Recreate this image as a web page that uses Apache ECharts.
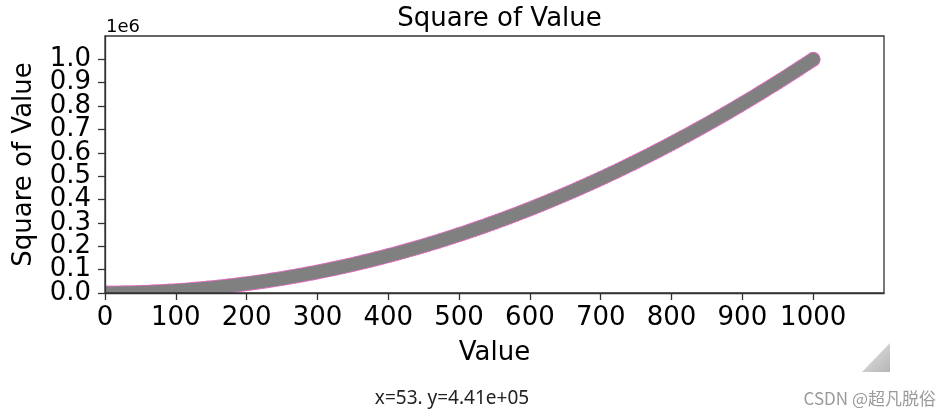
<!DOCTYPE html>
<html>
<head>
<meta charset="utf-8">
<script src="https://cdn.jsdelivr.net/npm/echarts@6/dist/echarts.min.js"></script>
<style>
html,body{margin:0;padding:0;background:#fff;}
#chart{width:952px;height:416px;}
</style>
</head>
<body>
<div id="chart"></div>
<script>
// ---- data ----
var xValues = [1,5,10,15,20,25,30,35,40,45,50,55,60,65,70,75,80,85,90,95,100,
105,110,115,120,125,130,135,140,145,150,155,160,165,170,175,180,185,190,195,200,
205,210,215,220,225,230,235,240,245,250,255,260,265,270,275,280,285,290,295,300,
305,310,315,320,325,330,335,340,345,350,355,360,365,370,375,380,385,390,395,400,
405,410,415,420,425,430,435,440,445,450,455,460,465,470,475,480,485,490,495,500,
505,510,515,520,525,530,535,540,545,550,555,560,565,570,575,580,585,590,595,600,
605,610,615,620,625,630,635,640,645,650,655,660,665,670,675,680,685,690,695,700,
705,710,715,720,725,730,735,740,745,750,755,760,765,770,775,780,785,790,795,800,
805,810,815,820,825,830,835,840,845,850,855,860,865,870,875,880,885,890,895,900,
905,910,915,920,925,930,935,940,945,950,955,960,965,970,975,980,985,990,995,1000];
var yValues = [1,25,100,225,400,625,900,1225,1600,2025,2500,3025,3600,4225,4900,5625,6400,7225,8100,9025,10000,
11025,12100,13225,14400,15625,16900,18225,19600,21025,22500,24025,25600,27225,28900,30625,32400,34225,36100,38025,40000,
42025,44100,46225,48400,50625,52900,55225,57600,60025,62500,65025,67600,70225,72900,75625,78400,81225,84100,87025,90000,
93025,96100,99225,102400,105625,108900,112225,115600,119025,122500,126025,129600,133225,136900,140625,144400,148225,152100,156025,160000,
164025,168100,172225,176400,180625,184900,189225,193600,198025,202500,207025,211600,216225,220900,225625,230400,235225,240100,245025,250000,
255025,260100,265225,270400,275625,280900,286225,291600,297025,302500,308025,313600,319225,324900,330625,336400,342225,348100,354025,360000,
366025,372100,378225,384400,390625,396900,403225,409600,416025,422500,429025,435600,442225,448900,455625,462400,469225,476100,483025,490000,
497025,504100,511225,518400,525625,532900,540225,547600,555025,562500,570025,577600,585225,592900,600625,608400,616225,624100,632025,640000,
648025,656100,664225,672400,680625,688900,697225,705600,714025,722500,731025,739600,748225,756900,765625,774400,783225,792100,801025,810000,
819025,828100,837225,846400,855625,864900,874225,883600,893025,902500,912025,921600,931225,940900,950625,960400,970225,980100,990025,1000000];
var xTicks = [0,100,200,300,400,500,600,700,800,900,1000];
var yTicks = [0,100000,200000,300000,400000,500000,600000,700000,800000,900000,1000000];
var xRange = [0, 1100];
var yRange = [0, 1100000];
var titleText = 'Square of Value';
var xName = 'Value';
var yName = 'Square of Value';
var offsetText = '1e6';
var statusText = 'x=53. y=4.41e+05';
var watermark = 'CSDN @超凡脱俗';

// ---- chart ----
var chart = echarts.init(document.getElementById('chart'), null, {renderer: 'canvas'});
var FONT = 'DejaVu Sans';
var AX = '#333333';
var pts = xValues.map(function (x, i) { return [x, yValues[i]]; });
var GL = 105, GR = 884, GT = 36, GB = 293;
// the y tick labels are tightly packed; split them over two overlaid axes so none get auto-hidden
var yTicksA = yTicks.filter(function (v, i) { return i % 2 === 0; });
var yTicksB = yTicks.filter(function (v, i) { return i % 2 === 1; });

function yLabel(values) {
  return {customValues: values, margin: 14, fontFamily: FONT, fontSize: 26, color: '#000',
    showMinLabel: true, showMaxLabel: true, hideOverlap: false,
    formatter: function (v) { return (v / 1e6).toFixed(1); }};
}

chart.setOption({
  animation: false,
  backgroundColor: '#ffffff',
  title: {
    text: titleText, left: (GL + GR) / 2, textAlign: 'center', top: 1, z: 10,
    textStyle: {fontFamily: FONT, fontSize: 26, fontWeight: 'normal', color: '#000'}
  },
  grid: {left: GL, right: 952 - GR, top: GT, bottom: 416 - GB, show: false},
  xAxis: {
    type: 'value', min: xRange[0], max: xRange[1], z: 5,
    name: xName, nameLocation: 'middle', nameGap: 47,
    nameTextStyle: {fontFamily: FONT, fontSize: 26, color: '#000'},
    axisLine: {show: true, lineStyle: {color: AX, width: 1.3}},
    axisTick: {show: true, length: 7, customValues: xTicks, lineStyle: {color: AX, width: 1.3}},
    axisLabel: {customValues: xTicks, margin: 12, fontFamily: FONT, fontSize: 26, color: '#000',
      showMinLabel: true, showMaxLabel: true, hideOverlap: false,
      formatter: function (v) { return String(v); }},
    splitLine: {show: false}
  },
  yAxis: [{
    type: 'value', min: yRange[0], max: yRange[1], z: 5, position: 'left',
    name: yName, nameLocation: 'middle', nameGap: 68, nameRotate: 90,
    nameTextStyle: {fontFamily: FONT, fontSize: 26, color: '#000'},
    axisLine: {show: true, lineStyle: {color: AX, width: 1.3}},
    axisTick: {show: true, length: 7, customValues: yTicks, lineStyle: {color: AX, width: 1.3}},
    axisLabel: yLabel(yTicksA),
    splitLine: {show: false}
  }, {
    type: 'value', min: yRange[0], max: yRange[1], z: 5, position: 'left', offset: 0,
    axisLine: {show: false}, axisTick: {show: false},
    axisLabel: yLabel(yTicksB),
    splitLine: {show: false}
  }],
  series: [{
    type: 'scatter', z: 1, yAxisIndex: 0,
    data: pts, symbol: 'circle', symbolSize: 15,
    itemStyle: {color: '#e070c0', borderWidth: 0, opacity: 1},
    emphasis: {disabled: true}, silent: true
  }, {
    type: 'scatter', z: 2, yAxisIndex: 0,
    data: pts, symbol: 'circle', symbolSize: 13.2,
    itemStyle: {color: '#808080', borderWidth: 0, opacity: 1},
    emphasis: {disabled: true}, silent: true
  }],
  graphic: [
    // mask outside the plotting area (markers are clipped at the axes in the reference)
    {type: 'rect', z: 3, shape: {x: 0, y: 0, width: GL, height: 416}, style: {fill: '#fff'}},
    {type: 'rect', z: 3, shape: {x: 0, y: GB, width: 952, height: 416 - GB}, style: {fill: '#fff'}},
    // frame (top/right spines)
    {type: 'rect', z: 6, shape: {x: GL, y: GT, width: GR - GL, height: GB - GT},
      style: {fill: 'none', stroke: AX, lineWidth: 1.3}},
    {type: 'text', z: 10, left: 106, top: 18, style: {text: offsetText, fontFamily: FONT, fontSize: 18, fill: '#000'}},
    {type: 'text', z: 10, x: 452, y: 399, style: {text: statusText, fontFamily: 'Noto Sans', fontSize: 19, fill: '#222',
      align: 'center', verticalAlign: 'middle'}},
    {type: 'text', z: 10, x: 936, y: 399, style: {text: watermark, fontFamily: 'Noto Sans CJK SC', fontSize: 17, fill: '#9a9a9a',
      align: 'right', verticalAlign: 'middle'}},
    {type: 'polygon', z: 10, shape: {points: [[890, 343], [890, 372], [862, 372]]},
      style: {fill: new echarts.graphic.LinearGradient(0, 0, 1, 1, [
        {offset: 0, color: '#e8e8e8'}, {offset: 1, color: '#b5b5b5'}])}}
  ]
});
</script>
</body>
</html>
